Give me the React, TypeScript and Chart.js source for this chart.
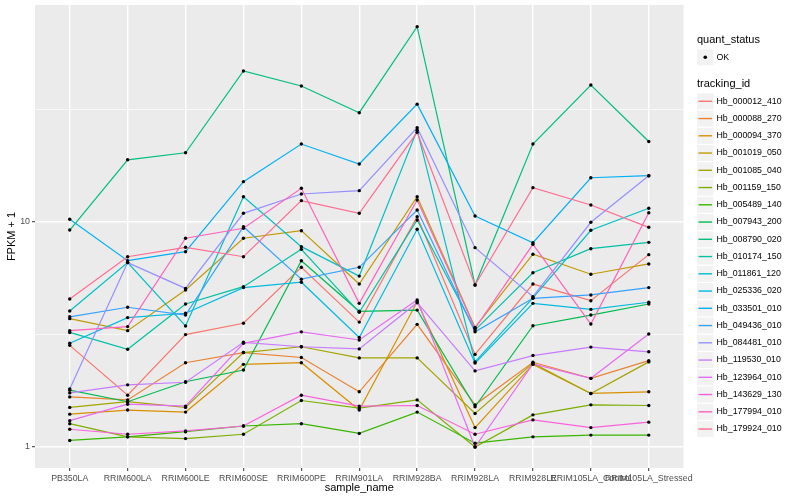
import React, { useEffect, useRef } from "react";
import { Chart, registerables } from "chart.js";

Chart.register(...registerables);

const FONT = '"Liberation Sans", Arial, Helvetica, sans-serif';

const categories = [
  "PB350LA",
  "RRIM600LA",
  "RRIM600LE",
  "RRIM600SE",
  "RRIM600PE",
  "RRIM901LA",
  "RRIM928BA",
  "RRIM928LA",
  "RRIM928LE",
  "RRIM105LA_Control",
  "RRIM105LA_Stressed",
];

const trackingIds = [
  "Hb_000012_410",
  "Hb_000088_270",
  "Hb_000094_370",
  "Hb_001019_050",
  "Hb_001085_040",
  "Hb_001159_150",
  "Hb_005489_140",
  "Hb_007943_200",
  "Hb_008790_020",
  "Hb_010174_150",
  "Hb_011861_120",
  "Hb_025336_020",
  "Hb_033501_010",
  "Hb_049436_010",
  "Hb_084481_010",
  "Hb_119530_010",
  "Hb_123964_010",
  "Hb_143629_130",
  "Hb_177994_010",
  "Hb_179924_010",
];

const seriesColors = [
  "#F8766D", "#EA8331", "#D89000", "#C09B00", "#A3A500",
  "#7CAE00", "#39B600", "#00BB4E", "#00BF7D", "#00C1A3",
  "#00BFC4", "#00BAE0", "#00B0F6", "#35A2FF", "#9590FF",
  "#C77CFF", "#E76BF3", "#FA62DB", "#FF62BC", "#FF6C91",
];

// FPKM + 1 values, one array per tracking_id, in category order
const hb000012_410 = [2.83, 1.7, 3.16, 3.55, 6.29, 3.59, 10.56, 2.58, 5.3, 4.47, 7.16];
const hb000088_270 = [1.67, 1.62, 2.37, 2.63, 2.5, 1.76, 3.51, 1.54, 2.38, 2.02, 2.42];
const hb000094_370 = [1.4, 1.46, 1.43, 2.33, 2.37, 1.46, 4.42, 1.22, 2.33, 1.73, 1.76];
const hb001019_050 = [3.72, 3.29, 4.99, 8.47, 9.15, 5.3, 12.95, 3.4, 7.19, 5.86, 6.51];
const hb001085_040 = [1.5, 1.59, 1.5, 2.63, 2.79, 2.49, 2.49, 1.41, 2.36, 1.73, 2.39];
const hb001159_150 = [1.27, 1.11, 1.09, 1.14, 1.61, 1.49, 1.62, 1.0, 1.39, 1.54, 1.53];
const hb005489_140 = [1.07, 1.11, 1.17, 1.24, 1.27, 1.15, 1.43, 1.04, 1.11, 1.13, 1.13];
const hb007943_200 = [1.79, 1.59, 1.95, 2.2, 6.73, 4.01, 4.06, 1.51, 3.46, 3.86, 4.32];
const hb008790_020 = [9.21, 18.9, 20.3, 46.9, 40.2, 30.6, 73.8, 5.25, 22.2, 40.6, 22.8];
const hb010174_150 = [3.23, 2.72, 4.32, 5.16, 7.56, 3.97, 10.21, 3.31, 5.95, 7.61, 8.12];
const hb011861_120 = [4.02, 6.6, 3.45, 12.95, 7.77, 5.75, 25.6, 2.39, 4.6, 9.19, 11.51];
const hb025336_020 = [2.89, 3.76, 3.93, 5.11, 5.4, 3.07, 9.28, 2.36, 4.35, 4.09, 4.4];
const hb033501_010 = [10.28, 6.73, 7.38, 15.11, 22.2, 18.1, 33.4, 10.63, 8.09, 15.73, 16.06];
const hb049436_010 = [3.79, 4.18, 3.86, 9.53, 5.57, 6.29, 11.31, 3.25, 4.58, 4.74, 5.11];
const hb084481_010 = [1.81, 6.6, 5.07, 10.93, 13.32, 13.78, 26.25, 7.69, 4.66, 9.97, 16.06];
const hb119530_010 = [1.74, 1.89, 1.94, 2.92, 2.79, 2.73, 4.38, 2.18, 2.55, 2.78, 2.65];
const hb123964_010 = [1.31, 1.55, 1.52, 2.89, 3.25, 2.99, 4.5, 1.0, 2.34, 2.02, 3.18];
const hb143629_130 = [1.2, 1.14, 1.18, 1.24, 1.7, 1.52, 1.53, 1.14, 1.32, 1.22, 1.29];
const hb177994_010 = [3.29, 3.43, 8.47, 9.38, 14.12, 4.35, 12.53, 3.37, 7.96, 3.52, 11.0];
const hb179924_010 = [4.55, 7.01, 7.72, 7.01, 12.44, 10.93, 25.04, 5.25, 14.21, 11.9, 9.47];

const seriesValues = [
  hb000012_410, hb000088_270, hb000094_370, hb001019_050, hb001085_040,
  hb001159_150, hb005489_140, hb007943_200, hb008790_020, hb010174_150,
  hb011861_120, hb025336_020, hb033501_010, hb049436_010, hb084481_010,
  hb119530_010, hb123964_010, hb143629_130, hb177994_010, hb179924_010,
];

// y (log) breaks: majors labelled, minors unlabelled
const yTickValues = [1, 3.1623, 10, 31.623];
const yTickLabels = ["1", "", "10", ""];

const quantStatus = ["OK"];

const panelBg = {
  id: "panelBg",
  beforeDraw(chart: any) {
    const { ctx, chartArea } = chart;
    ctx.save();
    ctx.fillStyle = "#EBEBEB";
    ctx.fillRect(chartArea.left, chartArea.top, chartArea.right - chartArea.left, chartArea.bottom - chartArea.top);
    ctx.restore();
  },
};

const pointsPlugin = {
  id: "ggPoints",
  afterDatasetsDraw(chart: any) {
    const ctx = chart.ctx;
    ctx.save();
    ctx.fillStyle = "#000000";
    chart.data.datasets.forEach((_: any, i: number) => {
      const meta = chart.getDatasetMeta(i);
      meta.data.forEach((el: any) => {
        ctx.beginPath();
        ctx.arc(el.x, el.y, 1.7, 0, Math.PI * 2);
        ctx.fill();
      });
    });
    ctx.restore();
  },
};

const legendPlugin = {
  id: "ggLegend",
  afterDraw(chart: any) {
    const ctx = chart.ctx;
    const x0 = 697;
    const keyW = 16.5;
    const keyH = 16;
    ctx.save();
    ctx.textBaseline = "middle";
    ctx.textAlign = "left";
    // quant_status
    ctx.fillStyle = "#000000";
    ctx.font = `11px ${FONT}`;
    ctx.fillText("quant_status", x0, 40);
    quantStatus.forEach((q, i) => {
      const cy = 57.3 + i * 17.25;
      ctx.fillStyle = "#F2F2F2";
      ctx.fillRect(x0, cy - keyH / 2, keyW, keyH);
      ctx.fillStyle = "#000000";
      ctx.beginPath();
      ctx.arc(x0 + keyW / 2, cy, 1.8, 0, Math.PI * 2);
      ctx.fill();
      ctx.font = `8.8px ${FONT}`;
      ctx.fillText(q, x0 + 19.5, cy);
    });
    // tracking_id
    ctx.font = `11px ${FONT}`;
    ctx.fillStyle = "#000000";
    ctx.fillText("tracking_id", x0, 83.5);
    trackingIds.forEach((id, i) => {
      const cy = 101.3 + i * 17.25;
      ctx.fillStyle = "#F2F2F2";
      ctx.fillRect(x0, cy - keyH / 2, keyW, keyH);
      ctx.strokeStyle = seriesColors[i];
      ctx.lineWidth = 1.4;
      ctx.beginPath();
      ctx.moveTo(x0 + 1.5, cy);
      ctx.lineTo(x0 + keyW - 1.5, cy);
      ctx.stroke();
      ctx.fillStyle = "#000000";
      ctx.font = `8.8px ${FONT}`;
      ctx.fillText(id, x0 + 19.5, cy);
    });
    ctx.restore();
  },
};

export default function App() {
  const ref = useRef<HTMLCanvasElement | null>(null);

  useEffect(() => {
    document.body.style.margin = "0";
    const canvas = ref.current;
    if (!canvas) return;

    const datasets = seriesValues.map((vals, i) => ({
      label: trackingIds[i],
      data: vals.map((v, j) => ({ x: j, y: v })),
      borderColor: seriesColors[i],
      backgroundColor: seriesColors[i],
      borderWidth: 1.2,
      pointRadius: 0,
      pointHoverRadius: 0,
      tension: 0,
      fill: false,
      order: -i,
    }));

    const chart = new Chart(canvas, {
      type: "line",
      data: { datasets },
      options: {
        responsive: false,
        animation: false,
        events: [],
        layout: { padding: { left: 0, right: 116.5, top: 5, bottom: 0 } },
        plugins: {
          legend: { display: false },
          tooltip: { enabled: false },
        },
        scales: {
          x: {
            type: "linear",
            min: -0.6,
            max: 10.6,
            afterBuildTicks: (s: any) => {
              s.ticks = categories.map((_, i) => ({ value: i }));
            },
            afterFit: (s: any) => {
              s.height = 32;
              s.paddingLeft = 0;
              s.paddingRight = 0;
            },
            ticks: {
              autoSkip: false,
              maxRotation: 0,
              minRotation: 0,
              padding: 2,
              color: "#4D4D4D",
              font: { family: FONT, size: 8.8 },
              callback: (v: any) => categories[Number(v)] ?? "",
            },
            grid: {
              color: "#FFFFFF",
              lineWidth: 1.4,
              drawTicks: true,
              tickLength: 3,
              tickColor: "#333333",
              tickWidth: 1,
            },
            border: { display: false },
            title: {
              display: true,
              text: "sample_name",
              color: "#000000",
              font: { family: FONT, size: 11 },
              padding: { top: 0, bottom: 5.4 },
            },
          },
          y: {
            type: "logarithmic",
            min: 0.807,
            max: 92.1,
            afterBuildTicks: (s: any) => {
              s.ticks = yTickValues.map((v) => ({ value: v }));
            },
            afterFit: (s: any) => {
              s.width = 35;
              s.paddingTop = 0;
              s.paddingBottom = 0;
            },
            ticks: {
              padding: 2,
              color: "#4D4D4D",
              font: { family: FONT, size: 8.8 },
              callback: (_v: any, i: number) => yTickLabels[i] ?? "",
            },
            grid: {
              color: "#FFFFFF",
              lineWidth: (c: any) => (yTickLabels[c.index] ? 1.4 : 0.7),
              drawTicks: true,
              tickLength: 3,
              tickColor: (c: any) => (yTickLabels[c.index] ? "#333333" : "rgba(0,0,0,0)"),
              tickWidth: 1,
            },
            border: { display: false },
            title: {
              display: true,
              text: "FPKM + 1",
              color: "#000000",
              font: { family: FONT, size: 11 },
              padding: { top: 5.4, bottom: 0 },
            },
          },
        },
      } as any,
      plugins: [panelBg, pointsPlugin, legendPlugin],
    });

    return () => chart.destroy();
  }, []);

  return (
    <div style={{ width: 800, height: 500 }}>
      <canvas ref={ref} width={800} height={500} style={{ display: "block" }} />
    </div>
  );
}
